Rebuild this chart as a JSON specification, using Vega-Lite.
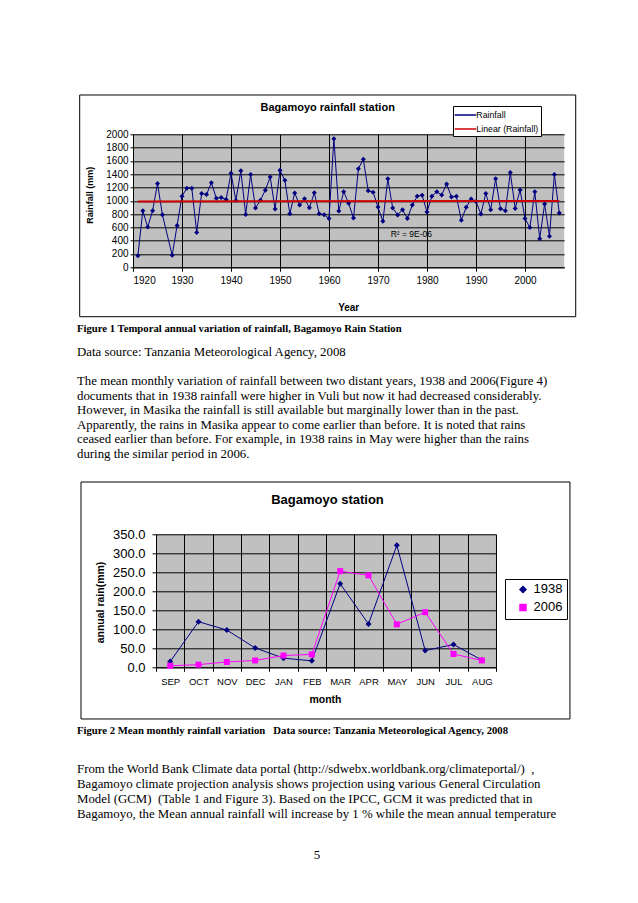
{
  "$schema": "https://vega.github.io/schema/vega-lite/v6.json",
  "background": "white",
  "padding": {"left": 77, "top": 94.3, "right": 0, "bottom": 0},
  "spacing": 0,
  "bounds": "full",
  "resolve": {"scale": {"color": "independent", "shape": "independent"}, "legend": {"color": "independent", "shape": "independent"}},
  "config": {
    "view": {"stroke": null},
    "font": "Liberation Sans",
    "axis": {"labelFont": "Liberation Sans", "titleFont": "Liberation Sans", "labelColor": "black", "titleColor": "black", "domainColor": "black", "tickColor": "black", "gridColor": "black", "gridOpacity": 1, "domainWidth": 1, "tickWidth": 1, "gridWidth": 1, "labelOverlap": false},
    "legend": {"labelFont": "Liberation Sans", "labelColor": "black"},
    "title": {"font": "Liberation Sans", "color": "black"}
  },
  "datasets": {
    "rain": [
      {"year": 1921, "rain": 175}, {"year": 1922, "rain": 850}, {"year": 1923, "rain": 605}, {"year": 1924, "rain": 850},
      {"year": 1925, "rain": 1260}, {"year": 1926, "rain": 790}, {"year": 1928, "rain": 180}, {"year": 1929, "rain": 630},
      {"year": 1930, "rain": 1070}, {"year": 1931, "rain": 1190}, {"year": 1932, "rain": 1190}, {"year": 1933, "rain": 525},
      {"year": 1934, "rain": 1110}, {"year": 1935, "rain": 1095}, {"year": 1936, "rain": 1270}, {"year": 1937, "rain": 1040},
      {"year": 1938, "rain": 1050}, {"year": 1939, "rain": 1020}, {"year": 1940, "rain": 1415}, {"year": 1941, "rain": 1005},
      {"year": 1942, "rain": 1450}, {"year": 1943, "rain": 795}, {"year": 1944, "rain": 1395}, {"year": 1945, "rain": 890},
      {"year": 1946, "rain": 1010}, {"year": 1947, "rain": 1160}, {"year": 1948, "rain": 1358}, {"year": 1949, "rain": 875},
      {"year": 1950, "rain": 1458}, {"year": 1951, "rain": 1308}, {"year": 1952, "rain": 805}, {"year": 1953, "rain": 1117},
      {"year": 1954, "rain": 935}, {"year": 1955, "rain": 1030}, {"year": 1956, "rain": 895}, {"year": 1957, "rain": 1120},
      {"year": 1958, "rain": 805}, {"year": 1959, "rain": 790}, {"year": 1960, "rain": 735}, {"year": 1961, "rain": 1934},
      {"year": 1962, "rain": 848}, {"year": 1963, "rain": 1137}, {"year": 1964, "rain": 965}, {"year": 1965, "rain": 740},
      {"year": 1966, "rain": 1483}, {"year": 1967, "rain": 1625}, {"year": 1968, "rain": 1152}, {"year": 1969, "rain": 1130},
      {"year": 1970, "rain": 905}, {"year": 1971, "rain": 691}, {"year": 1972, "rain": 1330}, {"year": 1973, "rain": 890},
      {"year": 1974, "rain": 787}, {"year": 1975, "rain": 865}, {"year": 1976, "rain": 735}, {"year": 1977, "rain": 935},
      {"year": 1978, "rain": 1070}, {"year": 1979, "rain": 1085}, {"year": 1980, "rain": 832}, {"year": 1981, "rain": 1070},
      {"year": 1982, "rain": 1137}, {"year": 1983, "rain": 1087}, {"year": 1984, "rain": 1253}, {"year": 1985, "rain": 1057},
      {"year": 1986, "rain": 1070}, {"year": 1987, "rain": 707}, {"year": 1988, "rain": 902}, {"year": 1989, "rain": 1027},
      {"year": 1990, "rain": 990}, {"year": 1991, "rain": 802}, {"year": 1992, "rain": 1110}, {"year": 1993, "rain": 867},
      {"year": 1994, "rain": 1330}, {"year": 1995, "rain": 880}, {"year": 1996, "rain": 850}, {"year": 1997, "rain": 1425},
      {"year": 1998, "rain": 885}, {"year": 1999, "rain": 1162}, {"year": 2000, "rain": 734}, {"year": 2001, "rain": 598},
      {"year": 2002, "rain": 1137}, {"year": 2003, "rain": 428}, {"year": 2004, "rain": 952}, {"year": 2005, "rain": 466},
      {"year": 2006, "rain": 1395}, {"year": 2007, "rain": 815}
    ],
    "monthly": [
      {"month": "SEP", "year": "1938", "rain": 15}, {"month": "OCT", "year": "1938", "rain": 120}, {"month": "NOV", "year": "1938", "rain": 98},
      {"month": "DEC", "year": "1938", "rain": 51}, {"month": "JAN", "year": "1938", "rain": 24}, {"month": "FEB", "year": "1938", "rain": 17},
      {"month": "MAR", "year": "1938", "rain": 220}, {"month": "APR", "year": "1938", "rain": 114}, {"month": "MAY", "year": "1938", "rain": 321},
      {"month": "JUN", "year": "1938", "rain": 44}, {"month": "JUL", "year": "1938", "rain": 60}, {"month": "AUG", "year": "1938", "rain": 19},
      {"month": "SEP", "year": "2006", "rain": 4}, {"month": "OCT", "year": "2006", "rain": 7}, {"month": "NOV", "year": "2006", "rain": 14},
      {"month": "DEC", "year": "2006", "rain": 18}, {"month": "JAN", "year": "2006", "rain": 31}, {"month": "FEB", "year": "2006", "rain": 34},
      {"month": "MAR", "year": "2006", "rain": 253}, {"month": "APR", "year": "2006", "rain": 242}, {"month": "MAY", "year": "2006", "rain": 113},
      {"month": "JUN", "year": "2006", "rain": 145}, {"month": "JUL", "year": "2006", "rain": 35}, {"month": "AUG", "year": "2006", "rain": 18}
    ],
    "text1": [
      {"line": 0, "kind": "caption", "text": "Figure 1 Temporal annual variation of rainfall, Bagamoyo Rain Station"},
      {"line": 1, "kind": "body", "text": "Data source: Tanzania Meteorological Agency, 2008"},
      {"line": 3, "kind": "body", "text": "The mean monthly variation of rainfall between two distant years, 1938 and 2006(Figure 4)"},
      {"line": 4, "kind": "body", "text": "documents that in 1938 rainfall were higher in Vuli but now it had decreased considerably."},
      {"line": 5, "kind": "body", "text": "However, in Masika the rainfall is still available but marginally lower than in the past."},
      {"line": 6, "kind": "body", "text": "Apparently, the rains in Masika appear to come earlier than before. It is noted that rains"},
      {"line": 7, "kind": "body", "text": "ceased earlier than before. For example, in 1938 rains in May were higher than the rains"},
      {"line": 8, "kind": "body", "text": "during the similar period in 2006."}
    ],
    "text2": [
      {"line": 0, "kind": "caption", "text": "Figure 2 Mean monthly rainfall variation\u00a0\u00a0 Data source: Tanzania Meteorological Agency, 2008"},
      {"line": 2, "kind": "body", "text": "From the World Bank Climate data portal (http://sdwebx.worldbank.org/climateportal/)\u00a0 ,"},
      {"line": 3, "kind": "body", "text": "Bagamoyo climate projection analysis shows projection using various General Circulation"},
      {"line": 4, "kind": "body", "text": "Model (GCM)\u00a0 (Table 1 and Figure 3). Based on the IPCC, GCM it was predicted that in"},
      {"line": 5, "kind": "body", "text": "Bagamoyo, the Mean annual rainfall will increase by 1 % while the mean annual temperature"},
      {"line": 8, "kind": "page", "text": "5"}
    ]
  },
  "vconcat": [
    {
      "spacing": 0,
      "bounds": "flush",
      "resolve": {"scale": {"color": "independent", "shape": "independent"}, "legend": {"color": "independent", "shape": "independent"}},
      "hconcat": [
        {"width": 56, "height": 133, "data": {"values": []}, "mark": "point", "encoding": {}},
        {
          "width": 431.2,
          "height": 133,
          "view": {"fill": "#C0C0C0", "stroke": null},
          "title": {"text": "Bagamoyo rainfall station", "fontSize": 11, "fontWeight": "bold", "anchor": "middle", "frame": "bounds", "baseline": "alphabetic", "offset": -27.9},
          "layer": [
            {
              "data": {"values": [{}]},
              "mark": {"type": "rect", "filled": false, "stroke": "black", "strokeWidth": 1, "clip": false},
              "encoding": {
                "x": {"datum": 1909.12, "type": "quantitative", "scale": {"domain": [1920, 2008], "nice": false, "zero": false},
                  "axis": {"values": [1920, 1930, 1940, 1950, 1960, 1970, 1980, 1990, 2000], "format": "d", "title": "Year", "grid": true, "tickSize": 4, "labelPadding": 4, "labelFontSize": 10, "titleFontSize": 10, "titleFontWeight": "bold", "titleX": 215.2, "titleY": 40.4, "titleBaseline": "middle", "titleAlign": "center"}},
                "x2": {"datum": 2010.35},
                "y": {"datum": 2591, "type": "quantitative", "scale": {"domain": [0, 2000], "nice": false},
                  "axis": {"values": [0, 200, 400, 600, 800, 1000, 1200, 1400, 1600, 1800, 2000], "format": "d", "title": "Rainfall (mm)", "grid": true, "tickSize": 3, "labelPadding": 2, "labelFontSize": 10, "titleFontSize": 9, "titleFontWeight": "bold", "titleX": -44, "titleY": 60.5, "titleAngle": 270, "titleBaseline": "middle", "titleAlign": "center"}},
                "y2": {"datum": -743}
              }
            },
            {
              "data": {"values": [{"label": "R² = 9E-06"}]},
              "mark": {"type": "text", "align": "left", "baseline": "alphabetic", "fontSize": 8.5, "color": "black"},
              "encoding": {
                "x": {"datum": 1972.6, "type": "quantitative", "scale": {"domain": [1920, 2008], "nice": false, "zero": false},
                  "axis": {"values": [1920, 1930, 1940, 1950, 1960, 1970, 1980, 1990, 2000], "format": "d", "title": "Year", "grid": true, "tickSize": 4, "labelPadding": 4, "labelFontSize": 10, "titleFontSize": 10, "titleFontWeight": "bold", "titleX": 215.2, "titleY": 40.4, "titleBaseline": "middle", "titleAlign": "center"}},
                "y": {"datum": 456, "type": "quantitative", "scale": {"domain": [0, 2000], "nice": false},
                  "axis": {"values": [0, 200, 400, 600, 800, 1000, 1200, 1400, 1600, 1800, 2000], "format": "d", "title": "Rainfall (mm)", "grid": true, "tickSize": 3, "labelPadding": 2, "labelFontSize": 10, "titleFontSize": 9, "titleFontWeight": "bold", "titleX": -44, "titleY": 60.5, "titleAngle": 270, "titleBaseline": "middle", "titleAlign": "center"}},
                "text": {"field": "label", "type": "nominal"}
              }
            },
            {
              "data": {"name": "rain"},
              "encoding": {
                "x": {"field": "year", "type": "quantitative", "scale": {"domain": [1920, 2008], "nice": false, "zero": false},
                  "axis": {"values": [1920, 1930, 1940, 1950, 1960, 1970, 1980, 1990, 2000], "format": "d", "title": "Year", "grid": true, "tickSize": 4, "labelPadding": 4, "labelFontSize": 10, "titleFontSize": 10, "titleFontWeight": "bold", "titleX": 215.2, "titleY": 40.4, "titleBaseline": "middle", "titleAlign": "center"}},
                "y": {"field": "rain", "type": "quantitative", "scale": {"domain": [0, 2000], "nice": false},
                  "axis": {"values": [0, 200, 400, 600, 800, 1000, 1200, 1400, 1600, 1800, 2000], "format": "d", "title": "Rainfall (mm)", "grid": true, "tickSize": 3, "labelPadding": 2, "labelFontSize": 10, "titleFontSize": 9, "titleFontWeight": "bold", "titleX": -44, "titleY": 60.5, "titleAngle": 270, "titleBaseline": "middle", "titleAlign": "center"}}
              },
              "layer": [
                {
                  "mark": {"type": "line", "strokeWidth": 1, "point": {"shape": "diamond", "size": 25, "filled": true}},
                  "encoding": {
                    "color": {"datum": "Rainfall", "type": "nominal", "scale": {"domain": ["Rainfall", "Linear (Rainfall)"], "range": ["#000080", "#CC0000"]},
                      "legend": {"orient": "none", "legendX": 320, "legendY": -28.3, "title": null, "padding": 2, "strokeColor": "black", "fillColor": "white", "symbolType": "M-1.8,0L1.8,0", "symbolSize": 144, "rowPadding": 2, "labelFontSize": 8.8, "labelOffset": 3.8, "symbolOffset": 3.5, "symbolStrokeWidth": 1.5}}
                  }
                },
                {
                  "transform": [{"regression": "rain", "on": "year"}],
                  "mark": {"type": "line", "strokeWidth": 2},
                  "encoding": {"color": {"datum": "Linear (Rainfall)", "type": "nominal"}}
                }
              ]
            }
          ]
        }
      ]
    },
    {
      "width": 480,
      "height": 164,
      "data": {"name": "text1"},
      "encoding": {
        "x": {"datum": 0, "type": "quantitative", "scale": {"domain": [0, 1]}, "axis": null},
        "y": {"field": "line", "type": "quantitative", "scale": {"domain": [0, 10], "range": [24.1, 169.5]}, "axis": null},
        "text": {"field": "text"}
      },
      "layer": [
        {"transform": [{"filter": "datum.kind === 'caption'"}], "mark": {"type": "text", "align": "left", "baseline": "alphabetic", "font": "Liberation Serif", "fontSize": 10.7, "fontWeight": "bold", "dy": -9.5, "color": "black"}, "encoding": {}},
        {"transform": [{"filter": "datum.kind === 'body'"}], "mark": {"type": "text", "align": "left", "baseline": "alphabetic", "font": "Liberation Serif", "fontSize": 12.85, "color": "black"}, "encoding": {}}
      ]
    },
    {
      "spacing": 0,
      "bounds": "flush",
      "resolve": {"scale": {"color": "independent", "shape": "independent"}, "legend": {"color": "independent", "shape": "independent"}},
      "hconcat": [
        {"width": 79, "height": 133, "data": {"values": []}, "mark": "point", "encoding": {}},
        {
          "width": 340,
          "height": 133,
          "view": {"fill": "#C0C0C0", "stroke": null},
          "title": {"text": "Bagamoyo station", "fontSize": 13, "fontWeight": "bold", "anchor": "middle", "frame": "bounds", "baseline": "alphabetic", "offset": -35.8, "dx": 2},
          "data": {"name": "monthly"},
          "resolve": {"scale": {"x": "independent"}},
          "layer": [
            {
              "data": {"values": [{}]},
              "mark": {"type": "rect", "filled": false, "stroke": "black", "strokeWidth": 1, "clip": false},
              "encoding": {
                "x": {"datum": -2.647, "type": "quantitative", "scale": {"domain": [0, 12], "nice": false, "zero": false}, "axis": null},
                "x2": {"datum": 14.61},
                "y": {"datum": 487.6, "type": "quantitative", "scale": {"domain": [0, 350], "nice": false},
                  "axis": {"values": [0, 50, 100, 150, 200, 250, 300, 350], "format": ".1f", "title": "annual rain(mm)", "grid": true, "tickSize": 4, "labelPadding": 7, "labelFontSize": 13, "labelOverlap": false, "titleFontSize": 10.5, "titleFontWeight": "bold", "titleX": -56, "titleY": 67.7, "titleAngle": 270, "titleBaseline": "middle", "titleAlign": "center"}},
                "y2": {"datum": -136}
              }
            },
            {
              "encoding": {
                "x": {"field": "month", "type": "nominal", "scale": {"type": "band", "domain": ["SEP", "OCT", "NOV", "DEC", "JAN", "FEB", "MAR", "APR", "MAY", "JUN", "JUL", "AUG"], "paddingInner": 0, "paddingOuter": 0},
                  "axis": {"title": "month", "tickBand": "extent", "grid": true, "labelAngle": 0, "tickSize": 4, "labelPadding": 5, "labelFontSize": 9.5, "titleFontSize": 10.5, "titleFontWeight": "bold", "titleX": 169, "titleY": 32.7, "titleBaseline": "middle", "titleAlign": "center"}},
                "y": {"field": "rain", "type": "quantitative", "scale": {"domain": [0, 350], "nice": false},
                  "axis": {"values": [0, 50, 100, 150, 200, 250, 300, 350], "format": ".1f", "title": "annual rain(mm)", "grid": true, "tickSize": 4, "labelPadding": 7, "labelFontSize": 13, "labelOverlap": false, "titleFontSize": 10.5, "titleFontWeight": "bold", "titleX": -56, "titleY": 67.7, "titleAngle": 270, "titleBaseline": "middle", "titleAlign": "center"}},
                "color": {"field": "year", "type": "nominal", "scale": {"domain": ["1938", "2006"], "range": ["#000080", "#FF00FF"]},
                  "legend": {"orient": "none", "legendX": 349, "legendY": 44.7, "title": null, "padding": 4, "strokeColor": "black", "fillColor": "white", "symbolSize": 36, "rowPadding": 4, "labelFontSize": 13, "labelOffset": 4, "symbolOffset": 7.5}}
              },
              "layer": [
                {"mark": {"type": "line", "strokeWidth": 1}, "encoding": {}},
                {"mark": {"type": "point", "filled": true, "opacity": 1, "size": 36},
                  "encoding": {"shape": {"field": "year", "type": "nominal", "scale": {"domain": ["1938", "2006"], "range": ["diamond", "square"]},
                    "legend": {"orient": "none", "legendX": 349, "legendY": 44.7, "title": null, "padding": 4, "strokeColor": "black", "fillColor": "white", "symbolSize": 36, "rowPadding": 4, "labelFontSize": 13, "labelOffset": 4, "symbolOffset": 7.5}}}}
              ]
            }
          ]
        }
      ]
    },
    {
      "width": 480,
      "height": 180,
      "data": {"name": "text2"},
      "encoding": {
        "x": {"datum": 0, "type": "quantitative", "scale": {"domain": [0, 1]}, "axis": null},
        "y": {"field": "line", "type": "quantitative", "scale": {"domain": [0, 10], "range": [23.6, 171.6]}, "axis": null},
        "text": {"field": "text"}
      },
      "layer": [
        {"transform": [{"filter": "datum.kind === 'caption'"}], "mark": {"type": "text", "align": "left", "baseline": "alphabetic", "font": "Liberation Serif", "fontSize": 10.7, "fontWeight": "bold", "dy": -9.5, "color": "black"}, "encoding": {}},
        {"transform": [{"filter": "datum.kind === 'body'"}], "mark": {"type": "text", "align": "left", "baseline": "alphabetic", "font": "Liberation Serif", "fontSize": 12.85, "color": "black"}, "encoding": {}},
        {"transform": [{"filter": "datum.kind === 'page'"}], "mark": {"type": "text", "align": "center", "baseline": "alphabetic", "font": "Liberation Serif", "fontSize": 13, "dy": -3, "color": "black"},
          "encoding": {"x": {"datum": 0.5, "type": "quantitative"}}}
      ]
    }
  ]
}
